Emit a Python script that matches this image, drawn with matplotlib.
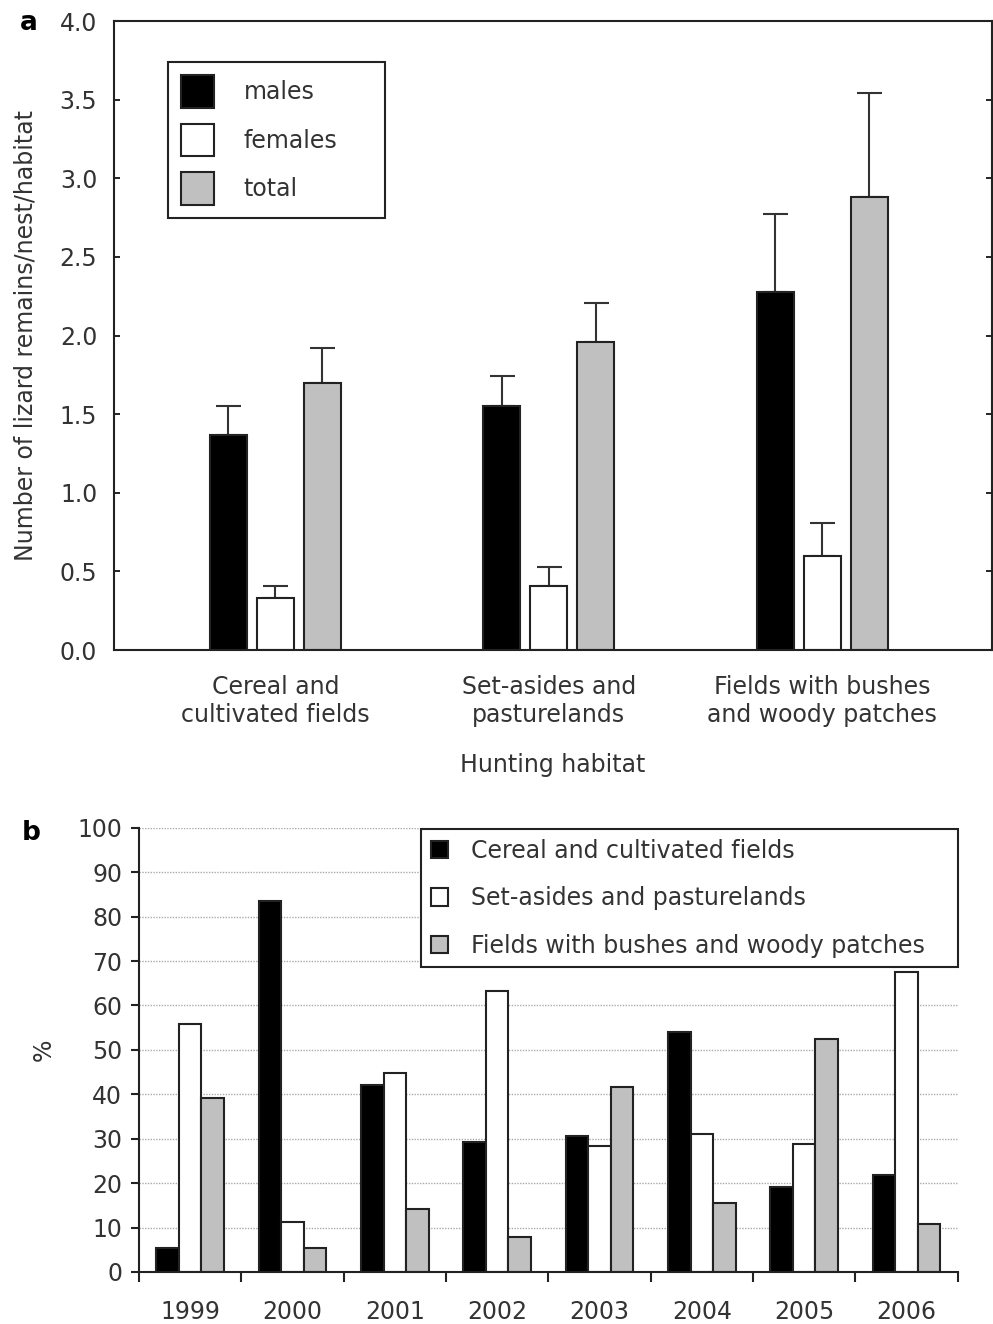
import numpy as np
import matplotlib
matplotlib.use('Agg')
import matplotlib.pyplot as plt
from matplotlib.patches import Patch

plt.rcParams['font.family'] = ['DejaVu Sans']
txt = '#333333'

# panel a data
habitats = ['Cereal and\ncultivated fields', 'Set-asides and\npasturelands',
            'Fields with bushes\nand woody patches']
sexes = ['males', 'females', 'total']
means = [[1.37, 1.55, 2.28],
         [0.33, 0.41, 0.60],
         [1.70, 1.96, 2.88]]
errs = [[0.18, 0.19, 0.49],
        [0.08, 0.12, 0.21],
        [0.22, 0.25, 0.66]]
colsA = ['black', 'white', '#c0c0c0']

# panel b data
years = ['1999', '2000', '2001', '2002', '2003', '2004', '2005', '2006']
habitatsB = ['Cereal and cultivated fields', 'Set-asides and pasturelands',
             'Fields with bushes and woody patches']
cereal = [5.5, 83.6, 42.0, 29.3, 30.7, 54.1, 19.1, 21.8]
setaside = [55.8, 11.2, 44.8, 63.3, 28.4, 31.0, 28.7, 67.6]
bushes = [39.2, 5.5, 14.1, 7.8, 41.6, 15.5, 52.5, 10.9]

fig = plt.figure(figsize=(9.93, 13.24), dpi=100)
fs = 17

# ---- panel a
ax = fig.add_axes([0.1148, 0.509, 0.8842, 0.4751])
x = np.arange(len(habitats))
w = 0.135
off = 0.172
for i in range(3):
    ax.bar(x + (i - 1) * off, means[i], w, color=colsA[i], edgecolor='#222222',
           linewidth=1.5, zorder=2)
    ax.errorbar(x + (i - 1) * off, means[i], yerr=[np.zeros(3), errs[i]],
                fmt='none', ecolor='#333333', elinewidth=1.5, capsize=9,
                capthick=1.5, zorder=1)
ax.set_xlim(-0.59, 2.62)
ax.set_ylim(0, 4.0)
ax.set_yticks(np.arange(0, 4.01, 0.5))
ax.set_yticklabels(['%.1f' % v for v in np.arange(0, 4.01, 0.5)])
ax.set_xticks(x)
ax.set_xticklabels(habitats, linespacing=1.2)
ax.tick_params(axis='y', direction='in', length=4, width=1.2, right=True,
               labelsize=fs, labelcolor=txt, pad=12)
ax.tick_params(axis='x', length=0, labelsize=fs, labelcolor=txt, pad=18)
for s in ax.spines.values():
    s.set_linewidth(1.5)
    s.set_color('#222222')
ax.set_ylabel('Number of lizard remains/nest/habitat', fontsize=fs, color=txt,
              labelpad=16)
ax.set_xlabel('Hunting habitat', fontsize=fs, color=txt, labelpad=19)
hA = [Patch(facecolor=c, edgecolor='#222222', linewidth=1.5) for c in colsA]
leg = ax.legend(hA, sexes, loc='upper left',
                bbox_to_anchor=(0.0615, 0.5, 0.247, 0.435), mode='expand',
                borderaxespad=0, fontsize=fs, handlelength=1.4, handleheight=1.75,
                labelspacing=0.68, handletextpad=1.25, borderpad=0.55,
                fancybox=False, edgecolor='#222222', framealpha=1)
leg.get_frame().set_linewidth(1.5)
for t in leg.get_texts():
    t.set_color(txt)
fig.text(0.02, 0.983, 'a', fontsize=19, fontweight='bold', va='center')

# ---- panel b
bx = fig.add_axes([0.140, 0.0393, 0.8245, 0.3355])
xb = np.arange(len(years))
wb = 0.22
series = [cereal, setaside, bushes]
for i in range(3):
    bx.bar(xb + (i - 1) * wb, series[i], wb, color=colsA[i], edgecolor='#222222',
           linewidth=1.5, zorder=2, label=habitatsB[i])
bx.set_xlim(-0.5, len(years) - 0.5)
bx.set_ylim(0, 100)
bx.set_yticks(np.arange(0, 101, 10))
bx.yaxis.grid(True, color='#aaaaaa', linestyle=(0, (1, 1)), linewidth=1)
bx.set_axisbelow(True)
bx.set_xticks(np.arange(-0.5, len(years)), minor=False)
bx.set_xticklabels([])
bx.set_xticks(xb, minor=True)
bx.set_xticklabels(years, minor=True)
bx.tick_params(axis='x', which='major', length=7, width=1.5, color='#222222')
bx.tick_params(axis='x', which='minor', length=0, labelsize=fs, labelcolor=txt,
               pad=20)
bx.tick_params(axis='y', length=6, width=1.5, labelsize=fs, labelcolor=txt,
               pad=6, color='#222222')
for k in ['top', 'right']:
    bx.spines[k].set_visible(False)
for k in ['left', 'bottom']:
    bx.spines[k].set_linewidth(1.5)
    bx.spines[k].set_color('#222222')
bx.set_ylabel('%', fontsize=fs, color=txt, labelpad=16)
legb = bx.legend(loc='upper left', bbox_to_anchor=(0.3445, 0.5, 0.6555, 0.497),
                 mode='expand', borderaxespad=0,
                 fontsize=fs, handlelength=0.76, handleheight=0.76,
                 labelspacing=1.0, handletextpad=0.95, borderpad=0.4,
                 fancybox=False, edgecolor='#222222', framealpha=1)
legb.get_frame().set_linewidth(1.5)
for t in legb.get_texts():
    t.set_color(txt)
fig.text(0.022, 0.371, 'b', fontsize=19, fontweight='bold', va='center')

fig.savefig('out.png', dpi=100, facecolor='white')
